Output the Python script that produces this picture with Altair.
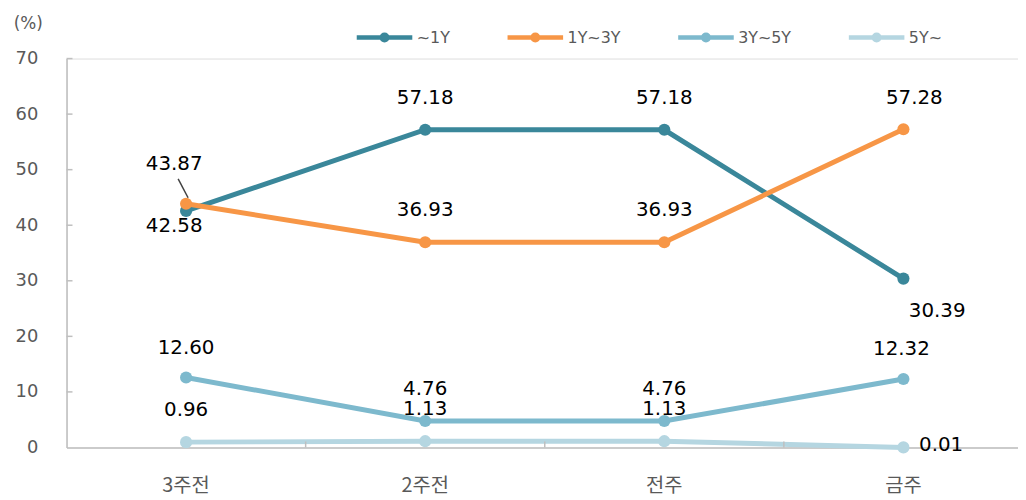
import altair as alt
import pandas as pd

categories = ["3주전", "2주전", "전주", "금주"]
series = ["~1Y", "1Y~3Y", "3Y~5Y", "5Y~"]
v_1y = [42.58, 57.18, 57.18, 30.39]
v_1y3y = [43.87, 36.93, 36.93, 57.28]
v_3y5y = [12.60, 4.76, 4.76, 12.32]
v_5y = [0.96, 1.13, 1.13, 0.01]
y_ticks = [0, 10, 20, 30, 40, 50, 60, 70]
colors = ["#3A879A", "#F79646", "#7DB9CD", "#B5D6E1"]

rows = []
for s, vals in zip(series, [v_1y, v_1y3y, v_3y5y, v_5y]):
    for c, v in zip(categories, vals):
        rows.append({"s": s, "c": c, "v": v})
df = pd.DataFrame(rows)
ticks_df = pd.DataFrame({"t": y_ticks[1:]})
xt_df = pd.DataFrame({"c": categories[:-1]})

W, H = 959, 392
XRANGE = 964
FONT = "DejaVu Sans"
KFONT = "Noto Sans CJK KR"
GRAY = "#595959"
AX = "#BFBFBF"

xscale = alt.Scale(type="band", domain=categories, paddingInner=0, paddingOuter=0,
                   range=[0, XRANGE])
yscale = alt.Scale(domain=[0, 70], nice=False)

sym = "M-1,0L1,0M-0.1,0A0.1,0.1,0,1,0,0.1,0A0.1,0.1,0,1,0,-0.1,0Z"

base = alt.Chart(df)

lines = base.mark_line(strokeWidth=5, point=alt.OverlayMarkDef(filled=True, size=150, opacity=1)).encode(
    x=alt.X("c:N", scale=xscale, bandPosition=0.5, sort=categories,
            axis=alt.Axis(title=None, labelAngle=0, tickSize=0, labelPadding=38,
                          labelBaseline="middle",
                          domainColor=AX, domainWidth=1.5, grid=False,
                          labelFont=KFONT, labelFontSize=20, labelColor=GRAY)),
    y=alt.Y("v:Q", scale=yscale,
            axis=alt.Axis(values=y_ticks, tickSize=0, labelPadding=29, grid=False,
                          domainColor=AX, domainWidth=1.5,
                          labelFont=FONT, labelFontSize=18, labelColor=GRAY,
                          title="(%)", titleAngle=0, titleX=-39, titleY=-35,
                          titleAlign="center", titleBaseline="middle",
                          titleFont=FONT, titleFontWeight="normal",
                          titleFontSize=17, titleColor=GRAY)),
    color=alt.Color("s:N", scale=alt.Scale(domain=series, range=colors), sort=series,
                    legend=alt.Legend(title=None, orient="none", legendX=290, legendY=-52,
                                      direction="horizontal", columns=4,
                                      symbolType=sym, symbolSize=3136, symbolStrokeWidth=4.5,
                                      labelFont=FONT, labelFontSize=16, labelColor=GRAY,
                                      columnPadding=48, labelOffset=2, padding=0)),
    order=alt.Order("c_idx:Q"),
).transform_calculate(c_idx="indexof(%s, datum.c)" % str(categories))

ytick_rules = alt.Chart(ticks_df).mark_rule(color=AX, strokeWidth=1.5).encode(
    y=alt.Y("t:Q", scale=yscale),
    x=alt.value(0), x2=alt.value(6),
)
xtick_rules = alt.Chart(xt_df).mark_rule(color=AX, strokeWidth=1.5).encode(
    x=alt.X("c:N", scale=xscale, bandPosition=1, sort=categories),
    y=alt.value(H - 6), y2=alt.value(H),
)

offsets = {
    ("~1Y", "3주전"): (-12, 15),
    ("~1Y", "금주"): (34, 33),
    ("1Y~3Y", "3주전"): (-12, -40),
    ("1Y~3Y", "금주"): (11, -31),
    ("3Y~5Y", "3주전"): (0, -30),
    ("3Y~5Y", "금주"): (-2, -30),
    ("5Y~", "금주"): (38, -2),
}
default = (0, -32)

text_layers = []
special_expr = " || ".join(
    "(datum.s == '%s' && datum.c == '%s')" % k for k in offsets
)
text_layers.append(
    base.transform_filter("!(%s)" % special_expr).mark_text(
        font=FONT, fontSize=20, color="#000000", dx=default[0], dy=default[1], baseline="middle"
    ).encode(x=alt.X("c:N", scale=xscale, bandPosition=0.5, sort=categories),
             y=alt.Y("v:Q", scale=yscale), text=alt.Text("v:Q", format=".2f"))
)
for (s, c), (dx, dy) in offsets.items():
    text_layers.append(
        base.transform_filter("datum.s == '%s' && datum.c == '%s'" % (s, c)).mark_text(
            font=FONT, fontSize=20, color="#000000", dx=dx, dy=dy, baseline="middle"
        ).encode(x=alt.X("c:N", scale=xscale, bandPosition=0.5, sort=categories),
                 y=alt.Y("v:Q", scale=yscale), text=alt.Text("v:Q", format=".2f"))
    )

leader = base.transform_filter("datum.s == '1Y~3Y' && datum.c == '3주전'").mark_rule(
    color="#404040", strokeWidth=1.5, xOffset=-8, yOffset=-25, x2Offset=2, y2Offset=-6
).encode(
    x=alt.X("c:N", scale=xscale, bandPosition=0.5, sort=categories),
    x2=alt.X2("c:N"),
    y=alt.Y("v:Q", scale=yscale),
    y2=alt.Y2("v:Q"),
)

chart = alt.layer(lines, ytick_rules, xtick_rules, leader, *text_layers).properties(
    width=W, height=H,
    autosize=alt.AutoSizeParams(type="none"),
    padding={"left": 59, "top": 49, "right": 0, "bottom": 51},
).configure_view(stroke=None).configure(background="#ffffff")

chart.save("out.html", embed_options={"renderer": "svg", "actions": False})
